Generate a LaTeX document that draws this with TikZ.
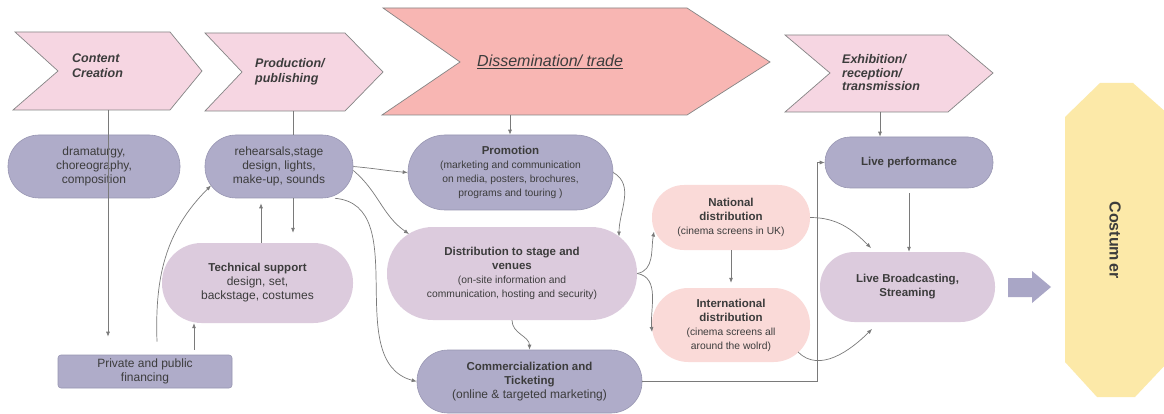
\documentclass[tikz,border=0pt]{standalone}
\usepackage{fontspec}
\setmainfont{Liberation Sans}
\usetikzlibrary{arrows.meta}
\definecolor{chev}{HTML}{F6D6E2}
\definecolor{chevedge}{HTML}{858585}
\definecolor{diss}{HTML}{F8B6B3}
\definecolor{darkn}{HTML}{AFACC9}
\definecolor{darkedge}{HTML}{9896B2}
\definecolor{lightn}{HTML}{DCCBDD}
\definecolor{pinkn}{HTML}{FADAD8}
\definecolor{yel}{HTML}{FCE9A8}
\definecolor{txt}{HTML}{3C3C3C}
\definecolor{arrc}{HTML}{7A7A7A}
\definecolor{bigarr}{HTML}{A9A6C6}
\newcommand\ttl{\fontsize{11.5}{14}\selectfont\bfseries}
\newcommand\sbt{\fontsize{10.3}{11.5}\selectfont}
\begin{document}
\begin{tikzpicture}[x=1pt,y=-1pt,
  sz/.style n args={3}{minimum width=#1pt, minimum height=#2pt, rounded corners=#3pt},
  box/.style={rectangle, align=center, text=txt, inner sep=1pt, font=\fontsize{12}{14}\selectfont},
  darkbox/.style={box, fill=darkn, draw=darkedge, line width=0.6pt},
  lightbox/.style={box, fill=lightn},
  pinkbox/.style={box, fill=pinkn},
  chevshape/.style={fill=chev, draw=chevedge, line width=0.7pt},
  chevtext/.style={align=left, text=txt, font=\fontsize{12.5}{15}\selectfont\bfseries\itshape, anchor=west, inner sep=0pt},
  arr/.style={draw=arrc, line width=0.7pt, -{Latex[length=5pt,width=4pt]}},
  plain/.style={draw=arrc, line width=0.7pt},
]
\useasboundingbox (0,0) rectangle (1164,414);
\fill[white] (0,0) rectangle (1164,414);

% chevrons
\draw[chevshape] (15,32) -- (170,32) -- (202,71) -- (170,110) -- (13,110) -- (58,71) -- cycle;
\node[chevtext] (cc) at (72,66) {Content\\Creation};
\draw[chevshape] (205,33) -- (345,33) -- (383,72) -- (345,111) -- (205,111) -- (242,72) -- cycle;
\node[chevtext] (pp) at (255,72) {Production/\\publishing};
\draw[chevshape, fill=diss] (383,8) -- (687,8) -- (770,62) -- (687,115) -- (382,115) -- (460,62) -- cycle;
\node[anchor=west, inner sep=0pt, text=txt, font=\fontsize{16}{18}\selectfont\itshape] (dt) at (477,62) {\underline{Dissemination/ trade}};
\draw[chevshape] (785,35) -- (948,35) -- (993,73) -- (948,112) -- (785,112) -- (830,73) -- cycle;
\node[chevtext, font=\fontsize{12.5}{13.5}\selectfont\bfseries\itshape] (ex) at (842,73) {Exhibition/\\reception/\\transmission};

\coordinate (ccb) at (108,110);
\coordinate (ppb) at (293,111);
\coordinate (dtb) at (510,115);
\coordinate (exb) at (880,112);

% nodes
\node[darkbox, sz={172}{63}{31}] (drama) at (94,166.5) {dramaturgy,\\choreography,\\composition};
\node[darkbox, sz={148}{63}{31}] (reh) at (279,166.5) {rehearsals,stage\\design, lights,\\make-up, sounds};
\node[lightbox, sz={191}{80}{39.5}] (tech) at (257.5,283) {{\ttl Technical support}\\design, set,\\backstage, costumes};
\node[darkbox, sz={174}{33}{3}] (fin) at (145,371.5) {Private and public\\financing};
\node[darkbox, sz={205}{75}{37}] (promo) at (510.5,172.5) {{\ttl Promotion}\\{\sbt (marketing and communication}\\{\sbt on media, posters, brochures,}\\{\sbt programs and touring )}};
\node[lightbox, sz={250}{93}{46}] (distr) at (512,273.5) {{\ttl Distribution to stage and}\\{\ttl venues}\\{\sbt (on-site information and}\\{\sbt communication, hosting and security)}};
\node[darkbox, sz={225}{63}{31}] (comm) at (529.5,381.5) {{\ttl Commercialization and}\\{\ttl Ticketing}\\(online \& targeted marketing)};
\node[pinkbox, sz={158}{65}{32}] (nat) at (731,217.5) {{\ttl National}\\{\ttl distribution}\\{\sbt (cinema screens in UK)}};
\node[pinkbox, sz={158}{74}{36.5}] (intl) at (731,325) {{\ttl International}\\{\ttl distribution}\\{\sbt (cinema screens all}\\{\sbt around the wolrd)}};
\node[darkbox, sz={168}{51}{25}] (livep) at (909,162.5) {{\ttl Live performance}};
\node[lightbox, sz={175}{70}{34.5}] (liveb) at (907.5,287) {{\ttl Live Broadcasting,}\\{\ttl Streaming}};

% customer
\fill[yel] (1065,117) -- (1100,83) -- (1133,83) -- (1168,114) -- (1168,362) -- (1135,397) -- (1097,397) -- (1065,362) -- cycle;
\node[rotate=-90, text=txt, font=\fontsize{16}{18}\selectfont\bfseries] (cust) at (1115,240) {Costum\hspace{2pt}er};
\fill[bigarr] (1008,278) -- (1032,278) -- (1032,271) -- (1051,287) -- (1032,303) -- (1032,297) -- (1008,297) -- cycle;

% connectors
\draw[arr, shorten >=18pt] (ccb) -- (ccb |- fin.north);
\draw[plain] (ppb) -- (ppb |- reh.north);
\draw[arr, shorten >=10pt] (reh.south -| ppb) -- (ppb |- tech.north);
\coordinate (t1) at ([xshift=3.5pt]tech.north);
\draw[arr, shorten >=5pt] (t1) -- (t1 |- reh.south);
\coordinate (f1) at ([xshift=49pt]fin.north);
\draw[arr, shorten <=5pt] (f1) -- (f1 |- tech.south);
\draw[arr] ([shift={(12,-13)}]fin.north) to[out=92, in=225] ([shift={(-68,19)}]reh.center);
\draw[arr] (reh.east) to[out=-5, in=175] (promo.west);
\draw[arr] ([yshift=-4pt]reh.east) to[out=-40, in=145] ([shift={(-103,-39.5)}]distr.center);
\draw[arr] ([xshift=56pt]reh.south) to[out=-5, in=165] (comm.west);
\draw[arr] (dtb) -- (dtb |- promo.north);
\draw[arr] (promo.east) to[out=-30, in=90] ([shift={(107,-37)}]distr.center);
\draw[arr] (distr.south) to[out=-90, in=90] (comm.north);
\draw[arr] (distr.east) to[out=10, in=-100] ([shift={(-77,14)}]nat.center);
\draw[arr] (distr.east) to[out=-10, in=95] ([shift={(-79,7)}]intl.center);
\draw[arr, shorten >=5pt] (nat.south) -- (intl.north);
\draw[arr] (nat.east) to[out=0, in=135] ([shift={(-36.5,-39)}]liveb.center);
\draw[arr] ([shift={(67,27)}]intl.center) to[out=-45, in=-135] ([shift={(-35.5,42)}]liveb.center);
\draw[arr] (comm.east) -- ++(175,0) |- (livep.west);
\draw[arr] (exb) -- (exb |- livep.north);
\draw[arr, shorten <=5pt] (livep.south) -- (livep.south |- liveb.north);
\end{tikzpicture}
\end{document}
